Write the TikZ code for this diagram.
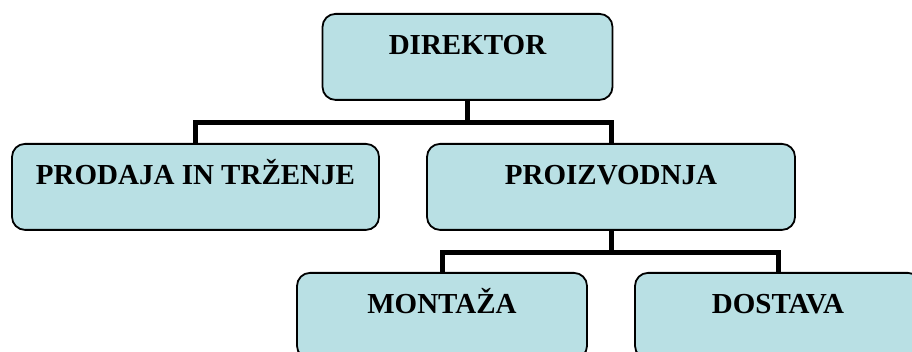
\documentclass[tikz,border=0pt]{standalone}
\usepackage{fontspec}
\setmainfont{Liberation Serif}
\definecolor{boxfill}{RGB}{185,224,228}
\tikzset{
  orgbox/.style={draw=black, line width=1.8pt, fill=boxfill, rounded corners=13pt,
    inner xsep=0pt, inner ysep=0pt, text height=41pt, text depth=45pt,
    anchor=north, font=\fontsize{29}{34}\selectfont\bfseries},
  conn/.style={draw=black, line width=5pt, line join=miter}
}
\begin{document}
\begin{tikzpicture}[x=1pt,y=-1pt]
\useasboundingbox (0,0) rectangle (912,352);
\clip (0,0) rectangle (912,352);
\node[orgbox, minimum width=290pt] (dir) at (467.5,13) {DIREKTOR};
\node[orgbox, minimum width=367pt] (prod) at (195.5,143) {PRODAJA IN TRŽENJE};
\node[orgbox, minimum width=368pt] (proi) at (611,143) {PROIZVODNJA};
\node[orgbox, minimum width=290pt] (mont) at (442,272) {MONTAŽA};
\node[orgbox, minimum width=286pt] (dost) at (778,272) {DOSTAVA};
\draw[conn] (dir.south) -- ++(0,22) -| (prod.north);
\draw[conn] (dir.south) -- ++(0,22) -| (proi.north);
\draw[conn] (proi.south) -- ++(0,22) -| (mont.north);
\draw[conn] (proi.south) -- ++(0,22) -| (dost.north);
\end{tikzpicture}
\end{document}
